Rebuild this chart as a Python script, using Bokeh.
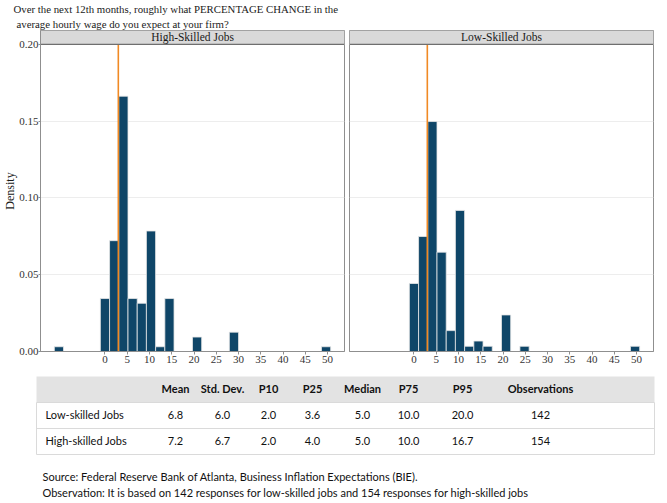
from bokeh.plotting import figure
from bokeh.layouts import column, row
from bokeh.models import Range1d, FixedTicker, PrintfTickFormatter, Title
from bokeh.core.properties import value
from bokeh.embed import file_html
from bokeh.resources import INLINE

# ---------------- data ----------------
TITLE_LINES = ["Over the next 12th months, roughly what PERCENTAGE CHANGE in the",
               "average hourly wage do you expect at your firm?"]
PANEL_NAMES = ["High-Skilled Jobs", "Low-Skilled Jobs"]
Y_LABEL = "Density"
BIN_WIDTH = 2.069

high_centers = [-10.34, 0.0, 2.07, 4.14, 6.21, 8.28, 10.34, 12.41, 14.48, 20.69, 28.97, 49.66]
high_density = [0.0031, 0.0345, 0.0722, 0.1663, 0.0345, 0.0314, 0.0785, 0.0031, 0.0345, 0.0094, 0.0126, 0.0031]

low_centers = [0.0, 2.07, 4.14, 6.21, 8.28, 10.34, 12.41, 14.48, 16.55, 20.69, 24.83, 49.66]
low_density = [0.0443, 0.0749, 0.1498, 0.0647, 0.0136, 0.0919, 0.0034, 0.0068, 0.0034, 0.0238, 0.0034, 0.0034]

REF_LINE = 3.0
X_TICKS = [0, 5, 10, 15, 20, 25, 30, 35, 40, 45, 50]
Y_TICKS = [0.0, 0.05, 0.10, 0.15, 0.20]

TABLE_HEADER = ["Mean", "Std. Dev.", "P10", "P25", "Median", "P75", "P95", "Observations"]
ROW_LABELS = ["Low-skilled Jobs", "High-skilled Jobs"]
low_stats = ["6.8", "6.0", "2.0", "3.6", "5.0", "10.0", "20.0", "142"]
high_stats = ["7.2", "6.7", "2.0", "4.0", "5.0", "10.0", "16.7", "154"]
FOOTNOTES = ["Source: Federal Reserve Bank of Atlanta, Business Inflation Expectations (BIE).",
             "Observation: It is based on 142 responses for low-skilled jobs and 154 responses for high-skilled jobs"]

# ---------------- style ----------------
SERIF = "Liberation Serif"
SANS = "Lato"
BAR_COLOR = "#0f4668"
ORANGE = "#f08a24"
BORDER = "#8f8f8f"
STRIP_FILL = "#d9d9d9"

all_c = high_centers + low_centers
lo = min(all_c) - BIN_WIDTH / 2
hi = max(all_c) + BIN_WIDTH / 2
pad = 0.05 * (hi - lo)
XLO, XHI = lo - pad, hi + pad
Y_MAX = 0.20
Y_TOP = 0.2091  # strip band above the panel

FIG_H = 368


def make_panel(name, centers, density, show_y, width, b_left, b_right):
    p = figure(width=width, height=FIG_H, x_range=Range1d(XLO, XHI), y_range=Range1d(0, Y_TOP),
               output_backend="svg", toolbar_location=None,
               min_border_left=b_left, min_border_right=b_right,
               min_border_top=30, min_border_bottom=17)
    p.background_fill_color = "white"
    p.border_fill_color = "white"
    p.outline_line_color = BORDER
    p.outline_line_width = 1

    p.xgrid.visible = False
    p.ygrid.ticker = FixedTicker(ticks=Y_TICKS)
    p.ygrid.grid_line_color = "#ededed"
    p.ygrid.grid_line_width = 1

    p.vbar(x=centers, top=density, bottom=0, width=BIN_WIDTH,
           fill_color=BAR_COLOR, line_color="#e8e8e8", line_width=0.8)

    p.segment(x0=[REF_LINE], y0=[0], x1=[REF_LINE], y1=[Y_MAX], line_color=ORANGE, line_width=1.6)

    # strip
    p.quad(left=[XLO], right=[XHI], bottom=[Y_MAX], top=[Y_TOP],
           fill_color=STRIP_FILL, line_color=None)
    p.segment(x0=[XLO], y0=[Y_MAX], x1=[XHI], y1=[Y_MAX], line_color="#6f6f6f", line_width=1.2)
    p.text(x=[(XLO + XHI) / 2], y=[(Y_MAX + Y_TOP) / 2], text=[name],
           text_align="center", text_baseline="middle",
           text_font=value(SERIF), text_font_size="11.5px", text_color="#1a1a1a")

    xa = p.xaxis[0]
    xa.ticker = FixedTicker(ticks=X_TICKS)
    xa.axis_line_color = BORDER
    xa.major_tick_line_color = BORDER
    xa.major_tick_out = 3
    xa.major_tick_in = 0
    xa.minor_tick_line_color = None
    xa.major_label_text_font = SERIF
    xa.major_label_text_font_size = "11px"
    xa.major_label_text_color = "#333333"
    xa.major_label_standoff = 1

    ya = p.yaxis[0]
    if show_y:
        ya.ticker = FixedTicker(ticks=Y_TICKS)
        ya.formatter = PrintfTickFormatter(format="%.2f")
        ya.axis_line_color = BORDER
        ya.major_tick_line_color = BORDER
        ya.major_tick_out = 2
        ya.major_tick_in = 0
        ya.minor_tick_line_color = None
        ya.major_label_text_font = SERIF
        ya.major_label_text_font_size = "11px"
        ya.major_label_text_color = "#333333"
        ya.major_label_standoff = 0
        p.add_layout(Title(text=Y_LABEL, align="center", standoff=0,
                           text_font=SERIF, text_font_size="12px",
                           text_font_style="normal", text_color="#1a1a1a"), "left")
    else:
        ya.visible = False
    return p


left = make_panel(PANEL_NAMES[0], high_centers, high_density, True, 345, 40, 1)
right = make_panel(PANEL_NAMES[1], low_centers, low_density, False, 322, 4, 14)

for line, off in reversed(list(zip(TITLE_LINES, [-27, -24]))):
    left.add_layout(Title(text=line, align="left", offset=off, standoff=1,
                          text_font=SERIF, text_font_size="10.8px",
                          text_font_style="normal", text_color="#1a1a1a"), "above")

# ---------------- table ----------------
TH = 503 - FIG_H
t = figure(width=667, height=TH, x_range=Range1d(0, 667), y_range=Range1d(TH, 0),
           x_axis_type=None, y_axis_type=None, output_backend="svg", toolbar_location=None,
           min_border=0)
t.outline_line_color = None
t.grid.visible = False

TBL_L, TBL_R = 36, 654
ROW_TOP = [8, 34, 60]
ROW_H = 26
COL_X = [175, 222, 268, 312, 362, 408, 462, 540]

t.quad(left=[TBL_L], right=[TBL_R], top=[ROW_TOP[0]], bottom=[ROW_TOP[0] + ROW_H],
       fill_color="#e3e3e3", line_color=None)
t.quad(left=[TBL_L], right=[TBL_R], top=[ROW_TOP[1]], bottom=[ROW_TOP[2] + ROW_H],
       fill_color=None, line_color="#dadada", line_width=1)
t.segment(x0=[TBL_L], x1=[TBL_R], y0=[ROW_TOP[2]], y1=[ROW_TOP[2]], line_color="#dadada", line_width=1)

t.text(x=COL_X, y=[ROW_TOP[0] + 12] * len(COL_X), text=TABLE_HEADER,
       text_align="center", text_baseline="middle", text_font=value(SANS),
       text_font_size="11px", text_font_style="bold", text_color="#111111")
for i, (lab, stats) in enumerate(zip(ROW_LABELS, [low_stats, high_stats])):
    yc = ROW_TOP[i + 1] + 12
    t.text(x=[45], y=[yc], text=[lab], text_align="left", text_baseline="middle",
           text_font=value(SANS), text_font_size="11px", text_color="#111111")
    t.text(x=COL_X, y=[yc] * len(COL_X), text=stats, text_align="center", text_baseline="middle",
           text_font=value(SANS), text_font_size="11px", text_color="#111111")

t.text(x=[42, 42], y=[108, 124], text=FOOTNOTES, text_align="left", text_baseline="middle",
       text_font=value(SANS), text_font_size="11px", text_color="#111111")

layout = column(row(left, right), t)
open("out.html", "w").write(file_html(layout, INLINE))
